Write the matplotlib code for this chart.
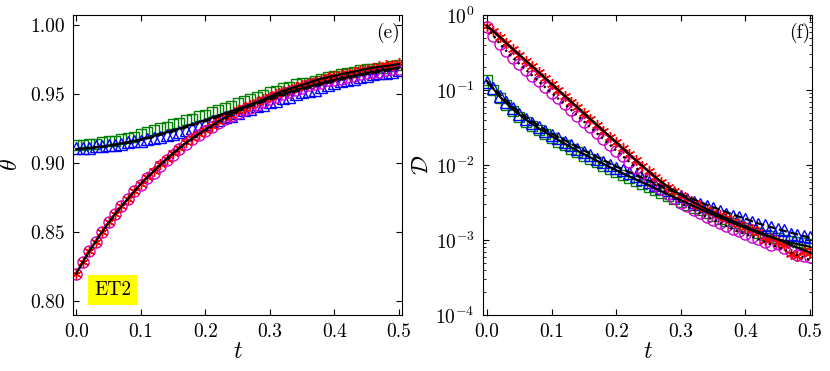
#!/usr/bin/env python3
"""Two-panel figure: theta(t) (linear) and D(t) (log) for case ET2."""

import matplotlib
matplotlib.use("Agg")
import matplotlib.pyplot as plt
import numpy as np
from matplotlib.ticker import FormatStrFormatter, LogLocator, NullFormatter

# time grids (markers every 0.01, fitted curves every 0.02)
t_pts = np.linspace(0.0, 0.5, 51)
t_fit = np.linspace(0.0, 0.5, 26)

# ---- panel (e): theta ----
theta_red = [0.820, 0.828, 0.836, 0.843, 0.850, 0.857, 0.863, 0.869, 0.874, 0.880,
             0.885, 0.890, 0.894, 0.899, 0.903, 0.907, 0.911, 0.915, 0.918, 0.921,
             0.924, 0.927, 0.930, 0.933, 0.935, 0.938, 0.940, 0.942, 0.944, 0.946,
             0.948, 0.950, 0.952, 0.953, 0.955, 0.956, 0.958, 0.959, 0.960, 0.962,
             0.963, 0.964, 0.965, 0.966, 0.967, 0.968, 0.969, 0.970, 0.971, 0.971, 0.972]
theta_mag = [0.820, 0.828, 0.836, 0.843, 0.850, 0.857, 0.863, 0.869, 0.874, 0.880,
             0.884, 0.889, 0.893, 0.898, 0.902, 0.906, 0.910, 0.914, 0.917, 0.920,
             0.923, 0.926, 0.929, 0.932, 0.934, 0.936, 0.938, 0.940, 0.942, 0.944,
             0.946, 0.948, 0.950, 0.951, 0.953, 0.954, 0.956, 0.957, 0.958, 0.960,
             0.960, 0.961, 0.962, 0.963, 0.964, 0.965, 0.966, 0.966, 0.967, 0.968, 0.968]
theta_green = [0.913, 0.913, 0.914, 0.914, 0.915, 0.916, 0.916, 0.917, 0.918, 0.919,
               0.921, 0.922, 0.924, 0.925, 0.926, 0.928, 0.929, 0.931, 0.932, 0.934,
               0.935, 0.937, 0.938, 0.940, 0.941, 0.943, 0.945, 0.946, 0.948, 0.949,
               0.951, 0.952, 0.954, 0.955, 0.957, 0.958, 0.958, 0.959, 0.961, 0.962,
               0.963, 0.964, 0.965, 0.966, 0.967, 0.968, 0.968, 0.969, 0.969, 0.970, 0.971]
theta_blue = [0.911, 0.911, 0.911, 0.912, 0.912, 0.913, 0.913, 0.914, 0.915, 0.916,
              0.916, 0.917, 0.918, 0.919, 0.920, 0.921, 0.922, 0.924, 0.925, 0.927,
              0.928, 0.930, 0.931, 0.933, 0.934, 0.936, 0.938, 0.939, 0.941, 0.942,
              0.944, 0.945, 0.947, 0.948, 0.950, 0.951, 0.952, 0.953, 0.955, 0.956,
              0.958, 0.959, 0.960, 0.961, 0.962, 0.963, 0.964, 0.965, 0.965, 0.966, 0.967]
theta_fit_low = [0.820, 0.836, 0.850, 0.863, 0.874, 0.885, 0.894, 0.903, 0.911, 0.918,
                 0.924, 0.930, 0.935, 0.940, 0.944, 0.948, 0.952, 0.955, 0.958, 0.961,
                 0.963, 0.965, 0.967, 0.969, 0.970, 0.9715]
theta_fit_low_dot = [0.820, 0.836, 0.850, 0.863, 0.874, 0.885, 0.894, 0.902, 0.910, 0.917,
                     0.923, 0.929, 0.934, 0.939, 0.943, 0.947, 0.951, 0.954, 0.957, 0.959,
                     0.961, 0.963, 0.965, 0.967, 0.968, 0.969]
theta_fit_up = [0.9100, 0.9108, 0.9118, 0.9133, 0.9150, 0.9170, 0.9195, 0.9222, 0.9250, 0.9280,
                0.9310, 0.9342, 0.9374, 0.9406, 0.9438, 0.9470, 0.9498, 0.9526, 0.9552, 0.9576,
                0.9600, 0.9620, 0.9640, 0.9658, 0.9674, 0.9690]
theta_fit_up_dash = [0.9100, 0.9107, 0.9116, 0.9130, 0.9146, 0.9165, 0.9189, 0.9215, 0.9243, 0.9272,
                     0.9302, 0.9333, 0.9365, 0.9397, 0.9429, 0.9460, 0.9489, 0.9517, 0.9543, 0.9568,
                     0.9592, 0.9613, 0.9633, 0.9651, 0.9667, 0.9682]

# ---- panel (f): D ----
D_red = [0.724, 0.605, 0.506, 0.423, 0.353, 0.295, 0.247, 0.206, 0.172, 0.1437,
         0.120, 0.1003, 0.0839, 0.0701, 0.0586, 0.0490, 0.0409, 0.0342, 0.0286, 0.0239,
         0.0200, 0.0167, 0.0139, 0.01165, 0.00977, 0.00822, 0.00692, 0.00596, 0.00513, 0.00452,
         0.00398, 0.00355, 0.00316, 0.00285, 0.00257, 0.00235, 0.00214, 0.00195, 0.00178, 0.00164,
         0.00151, 0.00140, 0.00129, 0.00100, 0.00105, 0.00095, 0.00085, 0.00066, 0.00062, 0.00072, 0.00068]
D_mag = [0.691, 0.527, 0.411, 0.328, 0.268, 0.224, 0.187, 0.156, 0.1305, 0.1091,
         0.0911, 0.0778, 0.0651, 0.0544, 0.0455, 0.0380, 0.0317, 0.0265, 0.0222, 0.01855,
         0.01552, 0.01326, 0.01104, 0.00925, 0.00776, 0.00653, 0.00549, 0.00473, 0.00407, 0.00359,
         0.00316, 0.00282, 0.00251, 0.00226, 0.00204, 0.00187, 0.00170, 0.00155, 0.00141, 0.00130,
         0.00120, 0.00111, 0.00102, 0.00094, 0.00086, 0.00089, 0.00078, 0.00072, 0.00064, 0.00062, 0.00060]
D_green = [0.1349, 0.1000, 0.0776, 0.0624, 0.0519, 0.0439, 0.0379, 0.0331, 0.0291, 0.0257,
           0.0228, 0.0203, 0.0182, 0.0163, 0.0147, 0.0132, 0.0120, 0.0108, 0.00984, 0.00893,
           0.00813, 0.00740, 0.00673, 0.00614, 0.00560, 0.00511, 0.00466, 0.00425, 0.00387, 0.00354,
           0.00324, 0.00296, 0.00270, 0.00248, 0.00228, 0.00209, 0.00193, 0.00179, 0.00166, 0.00154,
           0.00143, 0.00134, 0.00125, 0.00118, 0.00112, 0.00106, 0.00101, 0.000973, 0.000935, 0.000902, 0.000871]
D_blue = [0.1259, 0.1047, 0.0832, 0.0684, 0.0569, 0.0481, 0.0416, 0.0363, 0.0319, 0.0282,
          0.0250, 0.0228, 0.0204, 0.0183, 0.0165, 0.0149, 0.0134, 0.0122, 0.0110, 0.0100,
          0.00912, 0.00849, 0.00773, 0.00705, 0.00643, 0.00586, 0.00535, 0.00488, 0.00466, 0.00426,
          0.00389, 0.00356, 0.00325, 0.00298, 0.00286, 0.00264, 0.00243, 0.00225, 0.00208, 0.00203,
          0.00189, 0.00176, 0.00165, 0.00156, 0.00147, 0.00140, 0.00134, 0.00122, 0.00118, 0.00114, 0.00110]
D_fit_red = [0.724, 0.506, 0.353, 0.247, 0.172, 0.120, 0.0839, 0.0586, 0.0409, 0.0286,
             0.0200, 0.0139, 0.00977, 0.00692, 0.00513, 0.00398, 0.00316, 0.00257, 0.00214, 0.00178,
             0.00151, 0.00129, 0.00110, 0.000933, 0.000794, 0.000676]
D_fit_mag = [0.691, 0.411, 0.268, 0.187, 0.1305, 0.0911, 0.0651, 0.0455, 0.0317, 0.0222,
             0.01552, 0.01104, 0.00776, 0.00549, 0.00407, 0.00316, 0.00251, 0.00204, 0.00170, 0.00141,
             0.00120, 0.00102, 0.00087, 0.00074, 0.00063, 0.00054]
D_fit_blue = [0.1259, 0.0871, 0.0596, 0.0437, 0.0335, 0.0263, 0.0214, 0.0174, 0.0141, 0.0116,
              0.00955, 0.00804, 0.00676, 0.00569, 0.00479, 0.00407, 0.00347, 0.00295, 0.00254, 0.00219,
              0.00191, 0.00166, 0.00148, 0.00132, 0.00119, 0.00107]
D_fit_green = [0.1318, 0.0813, 0.0550, 0.0403, 0.0309, 0.0243, 0.0193, 0.0155, 0.0126, 0.01035,
               0.00851, 0.00708, 0.00589, 0.00490, 0.00407, 0.00339, 0.00282, 0.00237, 0.00200, 0.00170,
               0.00145, 0.00124, 0.00108, 0.000966, 0.000881, 0.000813]

plt.rcParams["font.family"] = "serif"
plt.rcParams["font.serif"] = ["cmr10", "DejaVu Serif"]
plt.rcParams["mathtext.fontset"] = "cm"
plt.rcParams["axes.unicode_minus"] = False
plt.rcParams["axes.formatter.use_mathtext"] = True

ASTER = (6, 2, 0)


def draw_markers(ax, t, green, blue, mag, red):
    ax.plot(t, green, ls="none", marker="s", ms=7.5, mfc="none", mec="green", mew=1.0)
    ax.plot(t, blue, ls="none", marker="^", ms=8.5, mfc="none", mec="blue", mew=1.0)
    ax.plot(t, mag, ls="none", marker="o", ms=8, mfc="none", mec="#cc00cc", mew=1.0)
    ax.plot(t, red, ls="none", marker=ASTER, ms=8, mec="red", mew=1.0)


def style_axes(ax):
    ax.tick_params(which="both", direction="in", top=True, right=True, labelsize=14)
    ax.tick_params(which="major", length=4, width=0.8, pad=6)
    ax.tick_params(which="minor", length=2, width=0.6)
    ax.set_xticks([0.0, 0.1, 0.2, 0.3, 0.4, 0.5])
    ax.xaxis.set_major_formatter(FormatStrFormatter("%.1f"))
    ax.set_xlabel(r"$t$", fontsize=17, labelpad=0)


fig = plt.figure(figsize=(8.3, 3.71), dpi=100)
ax1 = fig.add_axes([0.088, 0.151, 0.3964, 0.8086])
ax2 = fig.add_axes([0.582, 0.151, 0.3964, 0.8086])

# panel (e)
draw_markers(ax1, t_pts, theta_green, theta_blue, theta_mag, theta_red)
ax1.plot(t_fit, theta_fit_up, color="black", lw=1.6)
ax1.plot(t_fit, theta_fit_up_dash, color="black", lw=1.6, ls="--")
ax1.plot(t_fit, theta_fit_low, color="black", lw=1.6)
ax1.plot(t_fit, theta_fit_low_dot, color="black", lw=1.6, ls=":")
ax1.set_xlim(-0.005, 0.505)
ax1.set_ylim(0.79, 1.007)
ax1.set_yticks([0.80, 0.85, 0.90, 0.95, 1.00])
ax1.yaxis.set_major_formatter(FormatStrFormatter("%.2f"))
style_axes(ax1)
ax1.set_ylabel(r"$\theta$", fontsize=17, labelpad=6)
ax1.text(0.993, 0.975, "(e)", transform=ax1.transAxes, ha="right", va="top", fontsize=14)
ax1.text(0.12, 0.083, "ET2", transform=ax1.transAxes, ha="center", va="center", fontsize=14,
         bbox=dict(boxstyle="square,pad=0.3", facecolor="yellow", edgecolor="none"))

# panel (f)
draw_markers(ax2, t_pts, D_green, D_blue, D_mag, D_red)
ax2.plot(t_fit, D_fit_red, color="black", lw=1.6)
ax2.plot(t_fit, D_fit_mag, color="black", lw=1.6, ls=":")
ax2.plot(t_fit, D_fit_blue, color="black", lw=1.6, ls="--")
ax2.plot(t_fit, D_fit_green, color="black", lw=1.6)
ax2.set_yscale("log")
ax2.set_xlim(-0.006, 0.503)
ax2.set_ylim(1e-4, 1.0)
ax2.yaxis.set_major_locator(LogLocator(base=10, numticks=10))
ax2.yaxis.set_minor_locator(LogLocator(base=10, subs=np.arange(2, 10), numticks=10))
ax2.yaxis.set_minor_formatter(NullFormatter())
style_axes(ax2)
ax2.set_ylabel(r"$\mathcal{D}$", fontsize=17, labelpad=2)
ax2.text(0.993, 0.975, "(f)", transform=ax2.transAxes, ha="right", va="top", fontsize=14)

fig.savefig("out.png", dpi=100)
